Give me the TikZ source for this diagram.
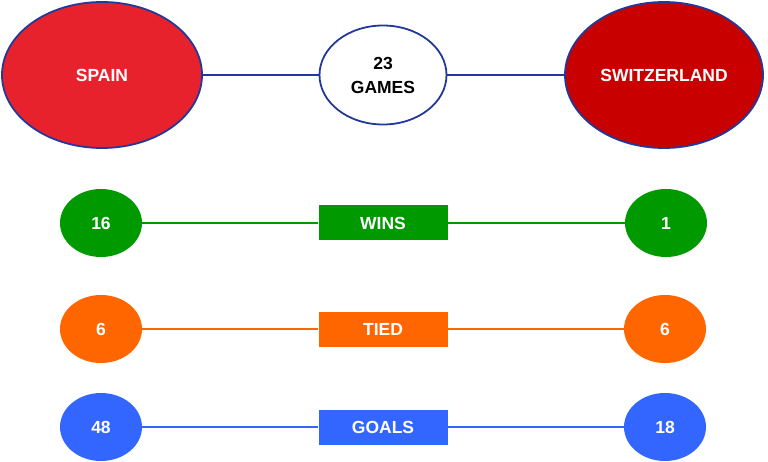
\documentclass[tikz,border=0pt]{standalone}
\usepackage{fontspec}
\setmainfont{Liberation Sans}
\usetikzlibrary{shapes.geometric}
\definecolor{navy}{HTML}{23399A}
\definecolor{spainred}{HTML}{E8222D}
\definecolor{swissred}{HTML}{C80000}
\definecolor{winsgreen}{HTML}{009900}
\definecolor{tiedorange}{HTML}{FF6600}
\definecolor{goalsblue}{HTML}{3366FF}
\tikzset{
  team/.style={ellipse, draw=navy, line width=1.8pt, minimum width=200pt, minimum height=146pt, inner sep=0pt, text=white, font=\fontsize{17.5}{20}\selectfont\bfseries},
  total/.style={ellipse, draw=navy, line width=1.8pt, fill=white, minimum width=127pt, minimum height=99pt, inner sep=0pt, align=center, font=\fontsize{17.5}{24}\selectfont\bfseries},
  score/.style={ellipse, fill=#1, minimum width=82pt, minimum height=68pt, inner sep=0pt, text=white, font=\fontsize{17.5}{20}\selectfont\bfseries},
  stat/.style={rectangle, fill=#1, minimum width=129pt, minimum height=35pt, inner sep=0pt, text=white, font=\fontsize{17.5}{20}\selectfont\bfseries},
  link/.style={line width=1.8pt, draw=#1}
}
\begin{document}
\begin{tikzpicture}[x=1pt,y=-1pt]
    \useasboundingbox (0,0) rectangle (768,462);
    % teams and games
    \node[team, fill=spainred] (spain) at (102,75) {SPAIN};
    \node[total] (games) at (383,75) {23\\GAMES};
    \node[team, fill=swissred, minimum width=198pt] (swiss) at (664,75) {SWITZERLAND};
    \draw[link=navy] (spain) -- (games);
    \draw[link=navy] (games) -- (swiss);
    % wins
    \node[score=winsgreen] (wspain) at (101,223) {16};
    \node[stat=winsgreen] (wins) at (383,223) {WINS};
    \node[score=winsgreen] (wswiss) at (666,223) {1};
    \draw[link=winsgreen] (wspain) -- (wins);
    \draw[link=winsgreen] (wins) -- (wswiss);
    % tied
    \node[score=tiedorange] (tspain) at (101,329) {6};
    \node[stat=tiedorange] (tied) at (383,329) {TIED};
    \node[score=tiedorange] (tswiss) at (665,329) {6};
    \draw[link=tiedorange] (tspain) -- (tied);
    \draw[link=tiedorange] (tied) -- (tswiss);
    % goals
    \node[score=goalsblue] (gspain) at (101,427) {48};
    \node[stat=goalsblue] (goals) at (383,427) {GOALS};
    \node[score=goalsblue] (gswiss) at (665,427) {18};
    \draw[link=goalsblue] (gspain) -- (goals);
    \draw[link=goalsblue] (goals) -- (gswiss);
  \end{tikzpicture}
\end{document}
